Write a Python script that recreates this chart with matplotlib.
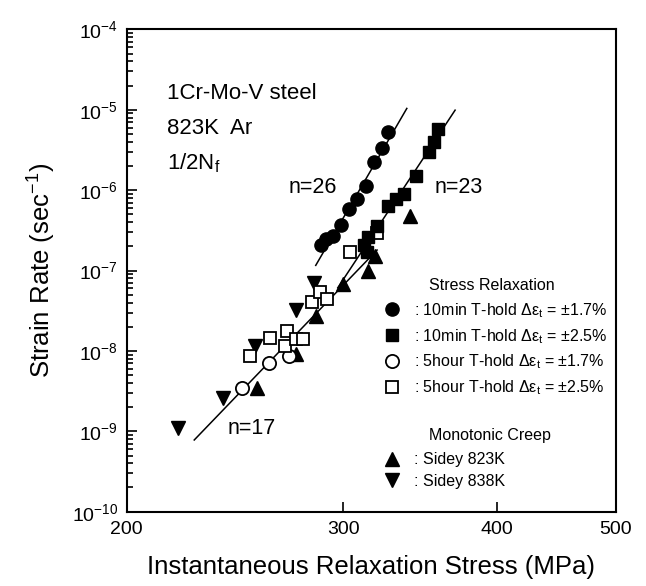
import numpy as np
import matplotlib
matplotlib.use("Agg")
import matplotlib.pyplot as plt
from matplotlib.ticker import LogLocator, NullFormatter, FixedLocator, FixedFormatter, NullLocator
from matplotlib.lines import Line2D

plt.rcParams['font.family'] = ['Liberation Sans', 'DejaVu Sans']
plt.rcParams['mathtext.fontset'] = 'custom'
plt.rcParams['mathtext.rm'] = 'Liberation Sans'
plt.rcParams['mathtext.it'] = 'Liberation Sans:italic'

# stress relaxation, 10 min hold, +-1.7 %  (filled circles)
s_10m_17 = [326.0, 322.5, 317.7, 313.0, 307.8, 303.2, 298.7, 294.2, 290.4, 287.7]
r_10m_17 = [5.3e-6, 3.35e-6, 2.25e-6, 1.13e-6, 7.8e-7, 5.9e-7, 3.7e-7, 2.7e-7, 2.5e-7, 2.05e-7]

# stress relaxation, 10 min hold, +-2.5 %  (filled squares)
s_10m_25 = [358.2, 355.5, 352.2, 343.7, 336.1, 331.1, 326.2, 319.5, 314.2, 311.8, 313.6]
r_10m_25 = [5.8e-6, 4.0e-6, 3.0e-6, 1.5e-6, 9.0e-7, 7.8e-7, 6.4e-7, 3.6e-7, 2.6e-7, 2.05e-7, 1.7e-7]

# stress relaxation, 5 hour hold, +-1.7 %  (open circles)
s_5h_17 = [248.1, 261.0, 270.9]
r_5h_17 = [3.5e-9, 7.0e-9, 8.6e-9]

# stress relaxation, 5 hour hold, +-2.5 %  (open squares)
s_5h_25 = [251.8, 261.5, 269.9, 268.9, 274.7, 278.3, 282.9, 287.1, 290.9, 303.8, 319.5]
r_5h_25 = [8.6e-9, 1.44e-8, 1.76e-8, 1.15e-8, 1.4e-8, 1.4e-8, 4.1e-8, 5.4e-8, 4.4e-8, 1.72e-7, 2.9e-7]

# monotonic creep, Sidey
s_823 = [255.2, 274.5, 285.0, 299.8, 314.2, 318.3, 339.9]
r_823 = [3.5e-9, 9.1e-9, 2.7e-8, 6.9e-8, 9.8e-8, 1.5e-7, 4.8e-7]
s_838 = [220.0, 239.6, 254.4, 274.7, 284.1]
r_838 = [1.1e-9, 2.6e-9, 1.15e-8, 3.2e-8, 7.0e-8]

# fitted lines (end points)
fit26_s = [285, 338]
fit26_r = [1.16e-7, 1.04e-5]
fit23_s = [297, 370]
fit23_r = [6.1e-8, 9.9e-6]
fit17_s = [227, 319.7]
fit17_r = [7.8e-10, 1.8e-7]

fig = plt.figure(figsize=(6.46, 5.86), dpi=100)
ax = fig.add_axes([0.196, 0.1268, 0.7574, 0.823])
ax.set_xscale('log')
ax.set_yscale('log')
ax.set_xlim(200, 500)
ax.set_ylim(1e-10, 1e-4)

for fs, fr in [(fit26_s, fit26_r), (fit23_s, fit23_r), (fit17_s, fit17_r)]:
    ax.plot(fs, fr, color='k', lw=1.1)

ms = 9.5
ax.plot(s_823, r_823, '^', color='k', ms=ms, ls='none')
ax.plot(s_838, r_838, 'v', color='k', ms=ms, ls='none')
ax.plot(s_5h_17, r_5h_17, 'o', mfc='white', mec='k', mew=1.3, ms=ms, ls='none')
ax.plot(s_5h_25, r_5h_25, 's', mfc='white', mec='k', mew=1.3, ms=8.5, ls='none')
ax.plot(s_10m_17, r_10m_17, 'o', color='k', ms=ms, ls='none')
ax.plot(s_10m_25, r_10m_25, 's', color='k', ms=8.5, ls='none')

for sp in ax.spines.values():
    sp.set_linewidth(1.5)

ax.xaxis.set_major_locator(FixedLocator([200, 300, 400, 500]))
ax.xaxis.set_major_formatter(FixedFormatter(['200', '300', '400', '500']))
ax.xaxis.set_minor_locator(NullLocator())
ax.yaxis.set_major_locator(LogLocator(base=10, numticks=10))
ax.yaxis.set_minor_locator(LogLocator(base=10, subs=np.arange(2, 10), numticks=20))
ax.yaxis.set_minor_formatter(NullFormatter())
ax.tick_params(which='both', direction='in', top=False, right=False, width=1.2, labelsize=14)
ax.tick_params(which='major', length=7)
ax.tick_params(which='minor', length=4)
ax.tick_params(axis='x', pad=7)
ax.tick_params(axis='y', pad=6)

ax.set_xlabel('Instantaneous Relaxation Stress (MPa)', fontsize=18.5, labelpad=12)
ax.set_ylabel('Strain Rate (sec$^{-1}$)', fontsize=18.5, labelpad=10)

ax.text(0.083, 0.868, '1Cr-Mo-V steel', fontsize=16, va='center', transform=ax.transAxes)
ax.text(0.083, 0.795, '823K  Ar', fontsize=16, va='center', transform=ax.transAxes)
ax.text(0.083, 0.722, '1/2N$_\\mathregular{f}$', fontsize=16, va='center', transform=ax.transAxes)

ax.text(0.330, 0.673, 'n=26', fontsize=15.5, va='center', transform=ax.transAxes)
ax.text(0.630, 0.673, 'n=23', fontsize=15.5, va='center', transform=ax.transAxes)
ax.text(0.207, 0.1735, 'n=17', fontsize=15.5, va='center', transform=ax.transAxes)

lab_sr = [': 10min T-hold \u0394\u03b5$_\\mathregular{t}$ = \u00b11.7%',
          ': 10min T-hold \u0394\u03b5$_\\mathregular{t}$ = \u00b12.5%',
          ': 5hour T-hold \u0394\u03b5$_\\mathregular{t}$ = \u00b11.7%',
          ': 5hour T-hold \u0394\u03b5$_\\mathregular{t}$ = \u00b12.5%']
h_sr = [Line2D([], [], marker='o', color='k', ls='none', ms=ms),
        Line2D([], [], marker='s', color='k', ls='none', ms=8.5),
        Line2D([], [], marker='o', mfc='white', mec='k', mew=1.3, ls='none', ms=ms),
        Line2D([], [], marker='s', mfc='white', mec='k', mew=1.3, ls='none', ms=8.5)]
leg1 = ax.legend(h_sr, lab_sr, loc='upper left', bbox_to_anchor=(0.526, 0.437),
                 frameon=False, fontsize=11.5, handlelength=1.0, handletextpad=0.9,
                 labelspacing=0.45, borderpad=0, borderaxespad=0)
ax.add_artist(leg1)

h_mc = [Line2D([], [], marker='^', color='k', ls='none', ms=ms),
        Line2D([], [], marker='v', color='k', ls='none', ms=ms)]
ax.legend(h_mc, [': Sidey 823K', ': Sidey 838K'], loc='upper left', bbox_to_anchor=(0.526, 0.123),
          frameon=False, fontsize=11.5, handlelength=1.0, handletextpad=0.9,
          labelspacing=0.42, borderpad=0, borderaxespad=0)

ax.text(0.747, 0.468, 'Stress Relaxation', fontsize=11.5, ha='center', va='center', transform=ax.transAxes)
ax.text(0.743, 0.157, 'Monotonic Creep', fontsize=11.5, ha='center', va='center', transform=ax.transAxes)

fig.savefig('out.png', dpi=100)
